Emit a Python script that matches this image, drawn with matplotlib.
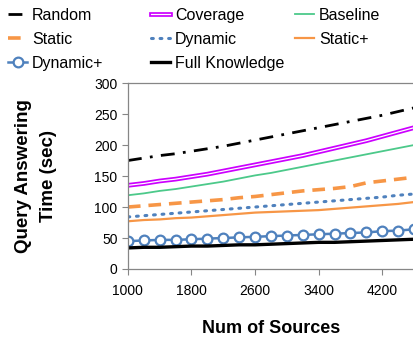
import matplotlib
matplotlib.use("Agg")
import matplotlib.pyplot as plt
import matplotlib.patheffects as pe

sources = list(range(1000, 4601, 200))

random_t = [175, 179, 183, 186, 190, 194, 198, 203, 208, 213, 218, 223, 228, 233, 238, 243, 248, 254, 260]
coverage = [135, 138, 142, 145, 149, 153, 158, 163, 168, 173, 178, 183, 189, 195, 201, 207, 214, 221, 228]
baseline = [119, 122, 126, 129, 133, 137, 141, 146, 151, 155, 160, 165, 170, 175, 180, 185, 190, 195, 200]
static = [100, 102, 104, 106, 108, 110, 112, 115, 117, 120, 123, 126, 128, 130, 133, 139, 142, 145, 148]
dynamic = [84, 86, 88, 90, 92, 94, 96, 98, 100, 102, 104, 106, 108, 110, 112, 114, 116, 119, 121]
static_plus = [77, 79, 80, 82, 83, 85, 87, 89, 91, 92, 93, 94, 95, 97, 99, 101, 103, 105, 108]
dynamic_plus = [45, 46, 47, 47, 48, 49, 50, 51, 52, 53, 54, 55, 56, 57, 58, 59, 61, 62, 64]
full_knowledge = [34, 35, 35, 36, 37, 37, 38, 39, 39, 40, 41, 42, 43, 43, 44, 45, 46, 47, 48]

xticks = [1000, 1800, 2600, 3400, 4200]
yticks = [0, 50, 100, 150, 200, 250, 300]

plt.rcParams["font.family"] = ["Liberation Sans", "DejaVu Sans"]

fig = plt.figure(figsize=(4.14, 3.39), dpi=100)
ax = fig.add_axes([0.309, 0.2065, 0.691, 0.5485])

orange = "#F79646"
blue = "#4F81BD"

h_random, = ax.plot(sources, random_t, color="black", lw=2.0,
                    dashes=(5, 3, 1, 3), label="Random")
h_cov, = ax.plot(sources, coverage, color="white", lw=0.9, label="Coverage",
                 path_effects=[pe.Stroke(linewidth=3.4, foreground="#CC00FF"), pe.Normal()])
h_base, = ax.plot(sources, baseline, color="#4CC98A", lw=1.3, label="Baseline")
h_static, = ax.plot(sources, static, color=orange, lw=2.6, dashes=(3.5, 2.2),
                    label="Static")
h_dyn, = ax.plot(sources, dynamic, color=blue, lw=2.2, dashes=(0.6, 2.2),
                 dash_capstyle="round", label="Dynamic")
h_sp, = ax.plot(sources, static_plus, color=orange, lw=1.6, label="Static+")
h_dp, = ax.plot(sources, dynamic_plus, color=blue, lw=1.8, marker="o", ms=7,
                mfc="white", mec=blue, mew=1.6, label="Dynamic+")
h_fk, = ax.plot(sources, full_knowledge, color="black", lw=2.4, label="Full Knowledge")

ax.set_xlim(1000, 4600)
ax.set_ylim(0, 300)
ax.set_xticks(xticks)
ax.set_yticks(yticks)
ax.tick_params(axis="both", labelsize=10, direction="out", length=4,
               color="#868686", width=0.8)
ax.tick_params(axis="x", pad=7)

for s in ["left", "bottom", "top"]:
    ax.spines[s].set_color("#868686")
    ax.spines[s].set_linewidth(0.9)
ax.spines["right"].set_visible(False)

ax.set_xlabel("Num of Sources", fontsize=13, fontweight="bold", labelpad=16)
ax.set_ylabel("Query Answering\nTime (sec)", fontsize=13.5, fontweight="bold",
              labelpad=27, linespacing=1.55)

# three legend columns placed where the reference has them
columns = [
    ([h_random, h_static, h_dp], 0.0),
    ([h_cov, h_dyn, h_fk], 0.345),
    ([h_base, h_sp], 0.693),
]
for hs, x0 in columns:
    fig.legend(handles=hs, labels=[h.get_label() for h in hs],
               loc="upper left", bbox_to_anchor=(x0, 1.0), frameon=False,
               fontsize=11.5, handlelength=1.2, handletextpad=0.3,
               labelspacing=0.55, borderaxespad=0.2, borderpad=0.3)

fig.savefig("out.png", dpi=100)
